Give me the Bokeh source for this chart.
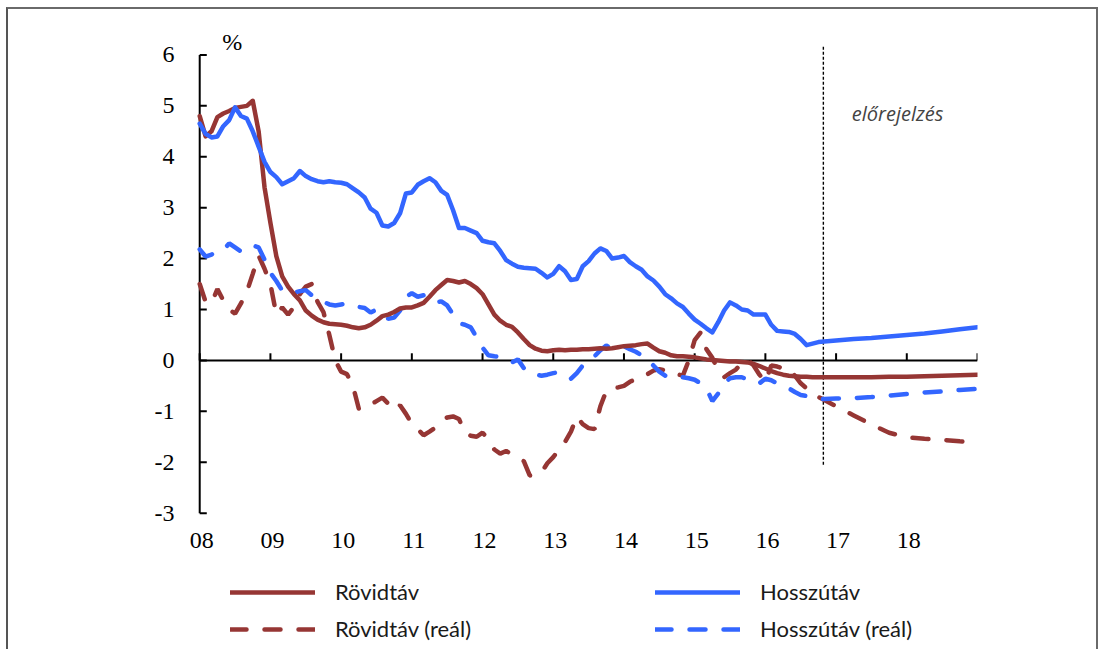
from bokeh.plotting import figure
from bokeh.models import (Range1d, FixedTicker, LinearAxis, Label, Legend, LegendItem,
                          ColumnDataSource, CustomJSTickFormatter)
from bokeh.core.properties import value
from bokeh.embed import file_html
from bokeh.resources import INLINE

# ---------------- data ----------------
# monthly observations, Jan 2008 .. Nov 2016
rovid = [4.8, 4.4, 4.5, 4.78, 4.85, 4.9, 4.96, 4.98, 5.0, 5.1,
         4.5, 3.4, 2.7, 2.05, 1.65, 1.45, 1.3, 1.18, 0.98, 0.88,
         0.8, 0.75, 0.72, 0.71, 0.7, 0.68, 0.65, 0.63, 0.65, 0.7,
         0.78, 0.87, 0.9, 0.95, 1.02, 1.04, 1.04, 1.08, 1.13, 1.25,
         1.38, 1.48, 1.58, 1.56, 1.53, 1.56, 1.5, 1.42, 1.3, 1.1,
         0.9, 0.78, 0.7, 0.66, 0.55, 0.42, 0.3, 0.23, 0.19, 0.18,
         0.2, 0.21, 0.2, 0.21, 0.21, 0.22, 0.22, 0.23, 0.24, 0.23,
         0.24, 0.26, 0.28, 0.29, 0.3, 0.32, 0.33, 0.25, 0.18, 0.15,
         0.1, 0.08, 0.08, 0.07, 0.06, 0.04, 0.02, 0.01, 0.0, -0.01,
         -0.02, -0.02, -0.03, -0.04, -0.07, -0.11, -0.16, -0.21, -0.25, -0.28,
         -0.3, -0.31, -0.32, -0.32, -0.33, -0.33, -0.33]
hossz = [4.65, 4.45, 4.38, 4.4, 4.6, 4.72, 4.97, 4.8, 4.75, 4.5,
         4.2, 3.9, 3.7, 3.6, 3.46, 3.52, 3.58, 3.72, 3.62, 3.56,
         3.52, 3.5, 3.52, 3.5, 3.49, 3.46, 3.38, 3.3, 3.2, 2.98,
         2.9, 2.65, 2.63, 2.7, 2.89, 3.28, 3.3, 3.45, 3.52, 3.58,
         3.5, 3.33, 3.25, 2.95, 2.6, 2.6, 2.55, 2.5, 2.35, 2.32,
         2.3, 2.15, 1.97, 1.9, 1.84, 1.82, 1.81, 1.8, 1.72, 1.63,
         1.7, 1.85, 1.75, 1.58, 1.6, 1.85, 1.95, 2.1, 2.2, 2.15,
         2.0, 2.02, 2.05, 1.93, 1.85, 1.78, 1.65, 1.57, 1.45, 1.3,
         1.22, 1.12, 1.05, 0.92, 0.8, 0.72, 0.63, 0.55, 0.75, 0.98,
         1.14, 1.08, 1.0, 0.98, 0.9, 0.9, 0.9, 0.7, 0.58, 0.57,
         0.56, 0.52, 0.42, 0.3, 0.33, 0.36, 0.37]
rovid_real = [1.5, 1.15, 1.12, 1.4, 1.18, 1.0, 0.92, 1.12, 1.35, 1.7,
              2.06, 1.8, 1.5, 0.9, 1.04, 0.9, 1.05, 1.3, 1.45, 1.5,
              1.15, 0.95, 0.5, 0.0, -0.22, -0.27, -0.5, -0.95, -0.95, -0.87,
              -0.8, -0.73, -0.85, -0.98, -0.88, -1.05, -1.25, -1.35, -1.47, -1.4,
              -1.32, -1.2, -1.12, -1.1, -1.15, -1.42, -1.48, -1.5, -1.42, -1.55,
              -1.75, -1.83, -1.78, -1.85, -1.92, -1.98, -2.26, -2.26, -2.2, -2.02,
              -1.9, -1.75, -1.6, -1.4, -1.1, -1.25, -1.33, -1.35, -0.9, -0.6,
              -0.53, -0.53, -0.5, -0.42, -0.37, -0.35, -0.27, -0.2, -0.17, -0.2,
              -0.2, -0.27, -0.3, 0.0, 0.4, 0.55, 0.22, 0.05, -0.2, -0.33,
              -0.25, -0.18, -0.05, 0.02, -0.1, -0.28, -0.42, -0.1, -0.12, -0.16,
              -0.16, -0.3, -0.45, -0.55, -0.65, -0.72, -0.78]
hossz_real = [2.18, 2.04, 2.08, 2.12, 2.16, 2.3, 2.22, 2.14, 2.18, 2.26,
              2.22, 1.98, 1.72, 1.56, 1.37, 1.32, 1.33, 1.36, 1.38, 1.28,
              1.2, 1.15, 1.1, 1.08, 1.1, 1.12, 1.08, 1.05, 1.03, 0.94,
              1.0, 0.9, 0.82, 0.84, 0.98, 1.25, 1.32, 1.25, 1.28, 1.2,
              1.14, 1.16, 1.08, 0.9, 0.73, 0.7, 0.65, 0.45, 0.25, 0.1,
              0.08, 0.07, 0.02, -0.04, 0.02, -0.15, -0.26, -0.28, -0.3, -0.28,
              -0.25, -0.23, -0.3, -0.36, -0.25, -0.1, 0.0, 0.08, 0.2, 0.29,
              0.24, 0.26, 0.28, 0.22, 0.17, 0.1, 0.01, -0.1, -0.22, -0.3,
              -0.34, -0.34, -0.33, -0.35, -0.38, -0.45, -0.55, -0.8, -0.65, -0.45,
              -0.35, -0.33, -0.33, -0.38, -0.44, -0.45, -0.36, -0.39, -0.45, -0.5,
              -0.55, -0.62, -0.68, -0.7, -0.73, -0.75, -0.76]

# forecast (quarterly), 2017 .. end of 2018
forecast_t = [2017.0, 2017.25, 2017.5, 2017.75, 2018.0, 2018.25, 2018.5, 2018.75, 2019.0]
rovid_fc = [-0.33, -0.33, -0.33, -0.32, -0.32, -0.31, -0.3, -0.29, -0.28]
hossz_fc = [0.39, 0.42, 0.44, 0.47, 0.5, 0.53, 0.57, 0.61, 0.65]
rovid_real_fc = [-0.9, -1.08, -1.26, -1.42, -1.51, -1.54, -1.56, -1.59, -1.61]
hossz_real_fc = [-0.75, -0.74, -0.72, -0.69, -0.66, -0.63, -0.61, -0.58, -0.56]

year_ticks = list(range(2008, 2020))
year_labels = ["08", "09", "10", "11", "12", "13", "14", "15", "16", "17", "18"]
y_ticks = [-3, -2, -1, 0, 1, 2, 3, 4, 5, 6]
forecast_start = 2016.82
forecast_text = "előrejelzés"

# ---------------- build ----------------
hist_t = [2008 + i / 12 for i in range(len(rovid))]
t = hist_t + forecast_t
src = ColumnDataSource(dict(
    t=t,
    rovid=rovid + rovid_fc,
    hossz=hossz + hossz_fc,
    rovid_real=rovid_real + rovid_real_fc,
    hossz_real=hossz_real + hossz_real_fc,
))

RED = "#963634"
BLUE = "#3366ff"
SERIF = "Liberation Serif"
Y_MIN, Y_MAX = y_ticks[0], y_ticks[-1]
X0, X1 = year_ticks[0], year_ticks[-1]
TICK_X = 0.1    # tick length along x (years)
TICK_Y = 0.14   # tick length along y (%)

p = figure(frame_width=799, frame_height=616, output_backend="svg", toolbar_location=None,
           x_range=Range1d(2007.7, 2019), y_range=Range1d(-5.6, 6.5),
           min_border_left=170, min_border_top=20, min_border_right=119, min_border_bottom=4,
           x_axis_type=None, y_axis_type=None)
p.outline_line_color = None
p.grid.visible = False
p.background_fill_color = "white"
p.border_fill_color = "white"
p.styles = {"margin-left": "6px", "margin-top": "7px",
            "border-top": "2px solid #6a6a6a", "border-left": "2px solid #555555",
            "border-right": "2px solid #6a6a6a"}

# y axis labels (axis itself drawn at the first year below)
yaxis = LinearAxis(ticker=FixedTicker(ticks=y_ticks), bounds=(Y_MIN, Y_MAX),
                   formatter=CustomJSTickFormatter(code="return tick.toString();"))
yaxis.axis_line_color = None
yaxis.major_tick_line_color = None
yaxis.minor_tick_line_color = None
yaxis.major_tick_in = 0
yaxis.major_tick_out = 0
yaxis.major_label_text_font = SERIF
yaxis.major_label_text_font_size = "24px"
yaxis.major_label_text_color = "black"
yaxis.major_label_standoff = 4
p.add_layout(yaxis, "left")

# y axis line and inward ticks at the first year
p.segment(x0=[X0], y0=[Y_MIN], x1=[X0], y1=[Y_MAX], line_color="black", line_width=2)
p.segment(x0=[X0] * len(y_ticks), y0=y_ticks, x1=[X0 + TICK_X] * len(y_ticks), y1=y_ticks,
          line_color="black", line_width=2)

# zero line with upward year ticks
p.segment(x0=[X0], y0=[0], x1=[X1], y1=[0], line_color="black", line_width=2)
p.segment(x0=year_ticks, y0=[0] * len(year_ticks), x1=year_ticks,
          y1=[TICK_Y] * len(year_ticks), line_color="black", line_width=2)

# year labels under the plot
p.text(x=year_ticks[:-1], y=[Y_MIN] * len(year_labels), text=year_labels,
       text_font=value(SERIF), text_font_size="24px", text_color="black",
       text_align="center", text_baseline="top", y_offset=20, x_offset=2)

# forecast divider
p.segment(x0=[forecast_start], y0=[-2.05], x1=[forecast_start], y1=[6.2],
          line_color="black", line_width=1.4, line_dash="3 2")

dash = "16 18"
r_rr = p.line("t", "rovid_real", source=src, line_color=RED, line_width=4.5,
              line_dash=dash, line_cap="round")
r_hr = p.line("t", "hossz_real", source=src, line_color=BLUE, line_width=4.5,
              line_dash=dash, line_cap="round")
r_r = p.line("t", "rovid", source=src, line_color=RED, line_width=4.5, line_cap="round",
             line_join="round")
r_h = p.line("t", "hossz", source=src, line_color=BLUE, line_width=4.5, line_cap="round",
             line_join="round")

p.add_layout(Label(x=2008.32, y=6.25, text="%", text_font=SERIF, text_font_size="24px",
                   text_align="left", text_baseline="middle", text_color="black"))
p.add_layout(Label(x=2017.87, y=4.85, text=forecast_text, text_font="Open Sans",
                   text_font_style="italic", text_font_size="20px", text_align="center",
                   text_baseline="middle", text_color="#444444"))


def make_legend(items, loc):
    lg = Legend(items=items, location=loc, orientation="vertical")
    lg.glyph_width = 85
    lg.glyph_height = 20
    lg.label_height = 20
    lg.label_standoff = 20
    lg.spacing = 10
    lg.padding = 0
    lg.margin = 0
    lg.border_line_color = None
    lg.background_fill_alpha = 0
    lg.label_text_font = "Lato"
    lg.label_text_font_size = "22px"
    lg.label_text_color = "#1a1a1a"
    return lg


p.add_layout(make_legend([LegendItem(label="Rövidtáv", renderers=[r_r]),
                          LegendItem(label="Rövidtáv (reál)", renderers=[r_rr])], (52, 3)))
p.add_layout(make_legend([LegendItem(label="Hosszútáv", renderers=[r_h]),
                          LegendItem(label="Hosszútáv (reál)", renderers=[r_hr])], (477, 3)))

open("out.html", "w").write(file_html(p, INLINE))
